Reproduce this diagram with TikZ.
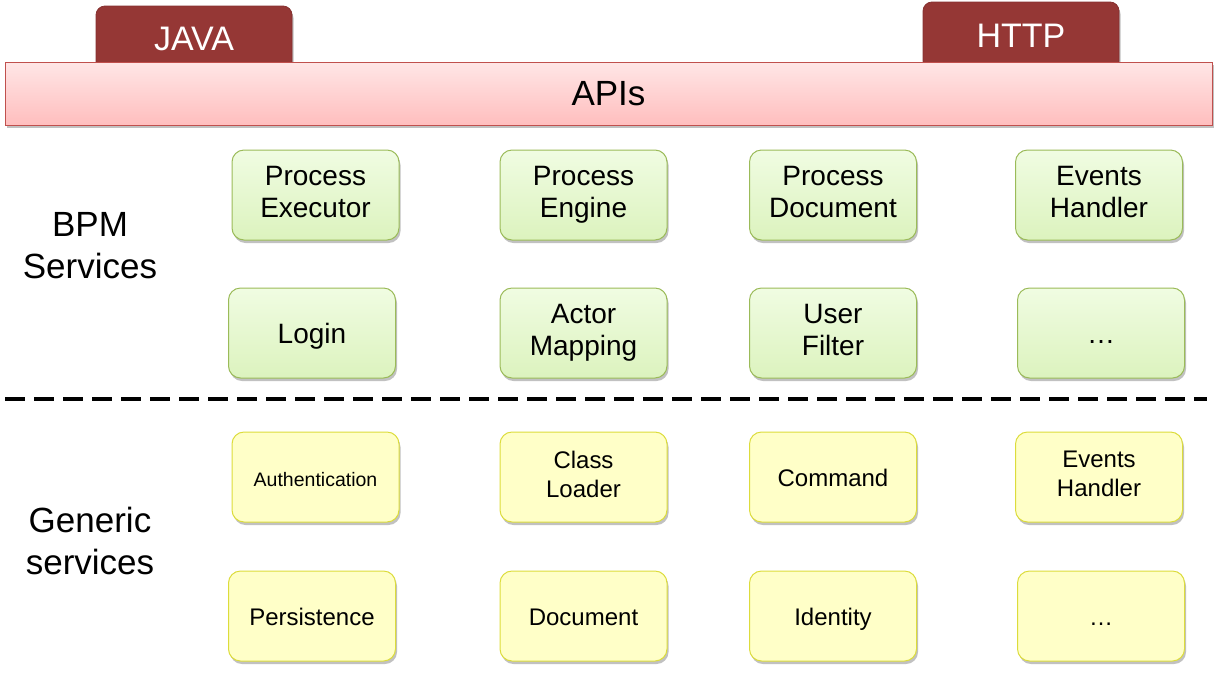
\documentclass[tikz,border=0pt]{standalone}
\usepackage{fontspec}
\setmainfont{Liberation Sans}
\usetikzlibrary{shadows}
\definecolor{tabred}{HTML}{953735}
\definecolor{apiborder}{HTML}{C0504D}
\definecolor{apitop}{HTML}{FFE6E6}
\definecolor{apibot}{HTML}{FFBEBE}
\definecolor{gtop}{HTML}{F0FCE2}
\definecolor{gbot}{HTML}{DCF3BE}
\definecolor{gborder}{HTML}{9BBB59}
\definecolor{yfill}{HTML}{FFFFC8}
\definecolor{yborder}{HTML}{DCDC3C}
\newcommand{\gstrutx}{\rule[-7pt]{0pt}{34pt}}
\newcommand{\ystrutx}{\rule[-6pt]{0pt}{30pt}}
\tikzset{
  shad/.style={drop shadow={shadow xshift=1.5pt,shadow yshift=-3pt,opacity=0.35,fill=black!70}},
  tabbox/.style={fill=tabred,draw=tabred!90!black,line width=0.8pt,rounded corners=9pt,minimum width=196pt,
    text=white,font=\fontsize{34}{40}\selectfont,inner sep=0pt,outer sep=0pt,shad},
  apibar/.style={draw=apiborder,line width=1pt,top color=apitop,bottom color=apibot,minimum width=1207pt,
    minimum height=63pt,inner sep=0pt,outer sep=0pt,font=\fontsize{35}{40}\selectfont,shad},
  gbox/.style={draw=gborder,line width=1pt,top color=gtop,bottom color=gbot,rounded corners=12pt,
    minimum width=167pt,minimum height=90pt,inner sep=0pt,outer sep=0pt,align=center,
    font=\fontsize{28}{32}\selectfont,shad,
    execute at begin node=\gstrutx, execute at end node=\gstrutx},
  ybox/.style={draw=yborder,line width=1pt,fill=yfill,rounded corners=12pt,
    minimum width=167pt,minimum height=90pt,inner sep=0pt,outer sep=0pt,align=center,
    font=\fontsize{24}{29}\selectfont,shad,
    execute at begin node=\ystrutx, execute at end node=\ystrutx},
  sidelabel/.style={align=center,font=\fontsize{35}{42}\selectfont,inner sep=0pt},
  sep/.style={line width=4pt,dash pattern=on 20pt off 9pt}
}
\begin{document}
\begin{tikzpicture}[x=1pt,y=-1pt]
\useasboundingbox (0,0) rectangle (1221,681);
% tabs
\node[tabbox,minimum height=66pt] (java) at (194,39) {\raisebox{-5pt}{JAVA}};
\node[tabbox,minimum height=68pt] (http) at (1021,36) {\raisebox{-3pt}{HTTP}};
% API bar
\node[apibar] (apis) at (608.5,93.5) {\raisebox{-2pt}{APIs}};
% BPM services
\node[sidelabel] (bpm) at (90,246) {BPM\\Services};
\node[gbox] (pexec) at (315.5,195) {Process\\Executor};
\node[gbox] (peng)  at (583.5,195) {Process\\Engine};
\node[gbox] (pdoc)  at (833,195)   {Process\\Document};
\node[gbox] (evh)   at (1099,195)  {Events\\Handler};
\node[gbox] (login) at (312,333)   {Login};
\node[gbox] (actor) at (583.5,333) {Actor\\Mapping};
\node[gbox] (ufil)  at (833,333)   {User\\Filter};
\node[gbox] (gdots) at (1101,333)  {\dots};
% separator
\coordinate (sepl) at (5,399);
\coordinate (sepr) at (1207,399);
\draw[sep] (sepl) -- (sepr);
% generic services
\node[sidelabel] (gen) at (90,541) {Generic\\services};
\node[ybox,font=\fontsize{19.5}{24}\selectfont] (auth) at (315.5,477) {Authentication};
\node[ybox] (cload) at (583.5,477) {Class\\Loader};
\node[ybox] (cmd)   at (833,477)   {Command};
\node[ybox] (yevh)  at (1099,477)  {Events\\Handler};
\node[ybox] (pers)  at (312,616)   {Persistence};
\node[ybox] (ydoc)  at (583.5,616) {Document};
\node[ybox] (ident) at (833,616)   {Identity};
\node[ybox] (ydots) at (1101,616)  {\dots};
\end{tikzpicture}
\end{document}
